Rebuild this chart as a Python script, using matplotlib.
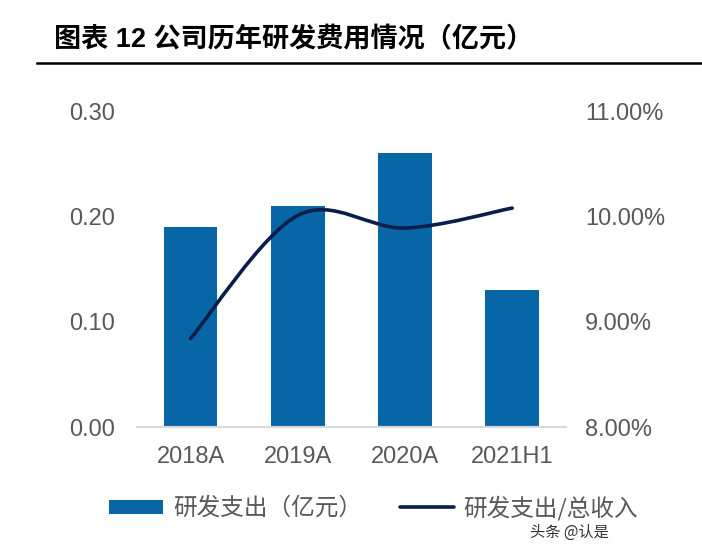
import numpy as np
import matplotlib
matplotlib.use("Agg")
import matplotlib.pyplot as plt
from matplotlib.path import Path
from matplotlib.patches import PathPatch, Patch
from matplotlib.lines import Line2D
from matplotlib.ticker import FuncFormatter

plt.rcParams['font.family'] = ['Liberation Sans', 'Noto Sans CJK SC', 'DejaVu Sans']

# data
years = ["2018A", "2019A", "2020A", "2021H1"]
rd_spend = [0.19, 0.21, 0.26, 0.13]          # 亿元
rd_ratio = [8.84, 10.01, 9.89, 10.08]        # % of revenue

bar_color = "#0767a6"
line_color = "#0b1d4b"
text_color = "#595959"

fig = plt.figure(figsize=(7.02, 5.56), dpi=100)
ax = fig.add_axes([0.195, 0.232, 0.611, 0.568])
ax2 = ax.twinx()

x = np.arange(len(years))
ax.bar(x, rd_spend, width=0.5, color=bar_color, zorder=2)
ax.set_xlim(-0.5, len(years) - 0.5)
ax.set_ylim(0, 0.30)
ax.set_yticks([0, 0.1, 0.2, 0.3])
ax.yaxis.set_major_formatter(FuncFormatter(lambda v, p: f"{v:.2f}"))
ax.set_xticks(x)
ax.set_xticklabels(years)

ax2.set_ylim(8, 11)
ax2.set_yticks([8, 9, 10, 11])
ax2.yaxis.set_major_formatter(FuncFormatter(lambda v, p: f"{v:.2f}%"))

# smoothed line (Catmull-Rom as bezier segments, like Excel smoothing)
pts = np.column_stack([x, rd_ratio]).astype(float)
ext = np.vstack([pts[0], pts, pts[-1]])
verts = [tuple(pts[0])]
codes = [Path.MOVETO]
for i in range(len(pts) - 1):
    p0, p1, p2, p3 = ext[i], ext[i + 1], ext[i + 2], ext[i + 3]
    c1 = p1 + (p2 - p0) / 6
    c2 = p2 - (p3 - p1) / 6
    verts += [tuple(c1), tuple(c2), tuple(p2)]
    codes += [Path.CURVE4] * 3
ax2.add_patch(PathPatch(Path(verts, codes), facecolor="none", edgecolor=line_color,
                        lw=2.6, capstyle="round", zorder=3))

for a in (ax, ax2):
    for s in a.spines.values():
        s.set_visible(False)
    a.tick_params(length=0, labelsize=17, labelcolor=text_color)
ax.spines['bottom'].set_visible(True)
ax.spines['bottom'].set_color("#d9d9d9")
ax.spines['bottom'].set_linewidth(1.5)
ax.tick_params(axis='y', pad=16)
ax.tick_params(axis='x', pad=14)
ax2.tick_params(axis='y', pad=14)

# legend
handles = [Patch(facecolor=bar_color, edgecolor="none"),
           Line2D([0], [0], color=line_color, lw=2.6, solid_capstyle="round")]
fig.legend(handles, ["研发支出（亿元）", "研发支出/总收入"], loc="center",
           bbox_to_anchor=(0.532, 0.087), ncol=2, frameon=False,
           handlelength=2.3, handleheight=0.55,
           handletextpad=0.4, columnspacing=1.6, labelcolor=text_color,
           prop={'family': ['Noto Sans CJK SC'], 'size': 17})

# title
fig.text(0.077, 0.928, "图表 12 公司历年研发费用情况（亿元）", fontsize=19.5,
         fontweight="bold", color="black", va="center", ha="left")
fig.add_artist(Line2D([37 / 702, 1.0], [1 - 63 / 556, 1 - 63 / 556],
                      transform=fig.transFigure, color="black", lw=1.8))

# watermark
fig.text(0.755, 0.043, "头条 @认是", fontsize=11, color="#333333",
         va="center", ha="left", family=['Noto Sans CJK SC'])

fig.savefig("out.png", dpi=100)
